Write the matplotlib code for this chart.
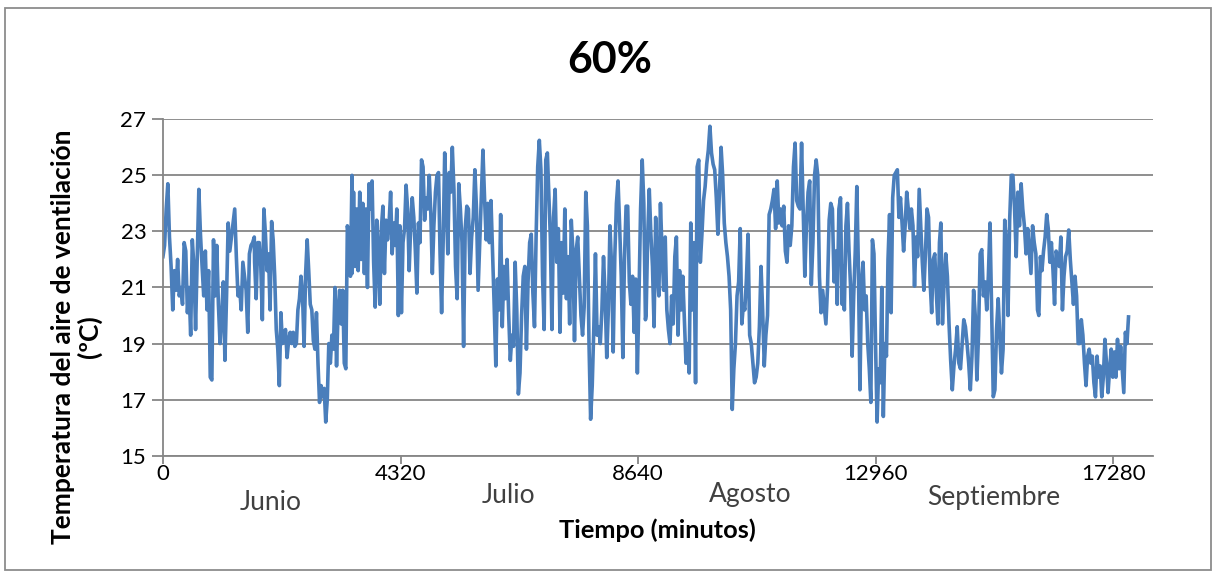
import numpy as np
import matplotlib
matplotlib.use("Agg")
import matplotlib.pyplot as plt
import matplotlib.transforms as mtransforms
from matplotlib.patches import Rectangle

plt.rcParams['font.family'] = ['Lato', 'DejaVu Sans']

# start / end minute of each stretch of readings
seg_start = [0, 1667, 3438, 5233, 7015, 8786, 10581, 12363, 14146, 15928]
seg_end = [1661, 3438, 5208, 6991, 8774, 10556, 12351, 14121, 15904, 17559]

t01 = [22.1, 22.5, 23.8, 24.7, 22.8, 21.75, 20.2, 21.6, 20.9, 22.0, 20.7, 21.0, 20.4, 22.6, 22.3,
       20.1, 21.0, 19.3, 22.7, 21.75, 19.5, 22.0, 24.5, 22.9, 21.75, 20.7, 22.3, 20.2, 21.6, 17.8,
       17.7, 22.7, 20.7, 22.5, 20.4, 19.0, 20.0, 21.2, 18.4, 20.7, 23.3, 22.3, 22.8, 23.3, 23.8,
       22.1, 20.7, 21.0, 20.2, 21.9, 21.4, 20.9, 19.4, 22.2, 22.5, 22.6, 22.8]
t02 = [21.9, 20.6, 22.6, 22.6, 21.75, 19.85, 23.8, 22.9, 21.6, 22.2, 20.2, 23.35, 22.7, 21.4, 19.5,
       18.8, 17.5, 20.1, 19.0, 19.3, 19.5, 18.5, 19.1, 19.4, 19.0, 19.4, 18.9, 19.0, 20.2, 20.6,
       21.4, 20.7, 18.9, 21.5, 22.7, 21.6, 20.4, 20.2, 19.1, 18.8, 20.1, 18.3, 16.9, 17.5, 17.1,
       17.4, 16.2, 17.0, 19.0, 18.3, 19.3, 18.8, 21.0, 18.2, 20.2, 20.9, 19.7, 20.9, 18.3, 18.1,
       23.2, 22.8, 21.4, 25.0]
t03 = [21.5, 24.4, 21.75, 23.8, 21.6, 24.4, 22.0, 24.0, 21.5, 23.8, 21.0, 24.7, 23.8, 24.8, 21.9,
       20.3, 23.4, 22.3, 20.4, 23.1, 23.9, 21.5, 23.4, 22.7, 23.3, 24.4, 22.2, 23.3, 22.5, 23.8,
       20.0, 23.2, 20.1, 22.6, 23.1, 24.65, 23.8, 21.6, 23.2, 24.2, 23.5, 22.3, 20.8, 23.3, 22.6,
       25.55, 25.3, 23.4, 24.2, 23.8, 25.0, 23.65, 21.5, 23.2, 24.4, 25.0, 25.1, 22.2, 20.1, 22.6,
       25.8, 24.2, 22.2, 25.1]
t04 = [24.4, 26.0, 24.5, 21.75, 20.6, 24.7, 23.8, 22.6, 18.9, 23.1, 23.9, 23.8, 21.5, 22.8, 23.5,
       25.2, 23.8, 20.9, 22.6, 24.4, 25.9, 24.2, 22.7, 24.0, 22.6, 24.1, 22.2, 20.3, 18.2, 21.3,
       20.2, 23.6, 19.6, 21.75, 20.6, 22.0, 20.0, 18.4, 19.3, 18.9, 21.9, 20.2, 17.2, 17.95, 20.0,
       21.4, 21.75, 18.8, 21.2, 22.6, 22.9, 20.8, 19.6, 22.8, 25.3, 26.25, 25.2, 21.4, 19.5, 25.55,
       25.8]
t05 = [24.4, 22.8, 19.5, 23.5, 24.5, 21.9, 23.1, 19.4, 22.6, 20.8, 23.8, 20.6, 22.1, 19.7, 23.4,
       22.3, 19.1, 22.3, 22.8, 21.4, 20.0, 19.3, 20.3, 24.4, 23.2, 19.0, 16.3, 17.5, 19.6, 22.2,
       19.3, 19.6, 19.0, 20.2, 22.1, 20.7, 18.5, 20.2, 23.2, 21.75, 18.7, 22.1, 24.0, 24.8, 23.2,
       21.4, 18.5, 22.0, 23.9, 23.9, 21.2, 20.4, 21.4, 19.4, 21.3, 17.95, 20.7, 23.8, 25.55, 24.0,
       19.85]
t06 = [20.0, 22.8, 24.5, 22.9, 21.75, 19.6, 23.5, 21.6, 20.7, 24.0, 22.3, 20.9, 22.8, 20.2, 19.5,
       19.0, 20.7, 19.7, 22.1, 22.8, 19.3, 21.6, 20.2, 21.4, 19.85, 18.3, 19.0, 17.95, 23.3, 20.2,
       22.6, 17.6, 25.3, 25.55, 21.9, 22.9, 24.1, 24.6, 25.4, 25.9, 26.75, 25.8, 25.4, 25.2, 24.2,
       22.9, 24.4, 26.0, 25.0, 23.3, 22.6, 22.1, 21.4, 20.2, 16.65, 18.1, 19.0, 20.7, 21.2, 23.1,
       19.7, 20.4]
t07 = [20.2, 21.3, 22.9, 19.3, 19.0, 18.3, 17.6, 17.8, 18.3, 19.6, 21.75, 20.2, 18.2, 19.3, 20.0,
       23.6, 23.8, 24.1, 24.5, 23.1, 24.8, 23.3, 23.8, 23.2, 23.9, 22.3, 21.9, 23.2, 22.5, 23.2,
       25.3, 26.15, 24.1, 23.9, 23.8, 26.15, 23.8, 21.4, 23.2, 24.4, 24.8, 21.1, 22.6, 25.0, 25.55,
       25.0, 21.4, 20.1, 20.9, 20.3, 19.7, 21.0, 23.4, 24.0, 23.8, 21.2, 22.3, 20.4, 23.8, 24.2,
       20.4]
t08 = [21.75, 20.2, 23.2, 24.0, 22.3, 21.0, 18.55, 20.7, 22.3, 24.6, 21.75, 17.35, 21.2, 21.9, 20.2,
       20.7, 19.0, 18.1, 16.9, 22.7, 22.2, 19.0, 16.2, 18.1, 17.6, 21.0, 16.4, 19.0, 18.55, 22.0,
       23.6, 20.1, 24.2, 25.0, 25.1, 25.2, 23.5, 24.2, 23.3, 22.3, 23.2, 24.4, 23.8, 23.1, 23.8,
       23.2, 21.05, 22.8, 22.1, 24.5, 23.2, 21.9, 20.9, 22.2, 23.8, 23.5, 21.2, 20.1, 22.0, 22.2,
       20.8, 19.7, 22.6]
t09 = [23.3, 19.7, 21.2, 22.2, 21.4, 19.7, 18.4, 17.35, 18.2, 18.8, 19.6, 18.3, 18.1, 19.0, 19.85,
       19.6, 19.0, 18.3, 17.35, 18.55, 20.9, 20.0, 17.7, 19.3, 22.2, 22.35, 20.7, 21.2, 20.2, 21.4,
       23.3, 20.2, 17.1, 17.35, 19.5, 20.6, 19.3, 17.95, 18.8, 23.4, 22.6, 20.0, 23.4, 25.0, 25.0,
       23.8, 22.1, 24.4, 23.2, 24.7, 23.8, 23.2, 22.2, 23.1, 22.3, 21.5, 23.2, 22.6, 22.2, 20.2]
t10 = [20.0, 22.1, 21.6, 22.3, 22.8, 23.6, 23.1, 21.9, 22.6, 21.6, 20.4, 22.3, 22.1, 21.75, 22.8,
       20.2, 21.4, 22.1, 22.3, 23.05, 22.0, 21.2, 20.4, 21.4, 20.7, 19.0, 19.0, 19.85, 19.3, 18.3,
       17.5, 18.55, 18.8, 18.3, 18.55, 17.6, 17.1, 18.55, 17.8, 18.2, 17.1, 17.8, 19.15, 18.3, 17.25,
       18.1, 18.8, 17.8, 18.7, 17.8, 19.15, 18.1, 18.9, 18.1, 17.25, 19.4, 19.0, 19.95]

segments = [t01, t02, t03, t04, t05, t06, t07, t08, t09, t10]

x_ticks = [0, 4320, 8640, 12960, 17280]
y_ticks = [15, 17, 19, 21, 23, 25, 27]
months = ['Junio', 'Julio', 'Agosto', 'Septiembre']
month_pos = [1950, 6280, 10680, 15100]
month_y = [0.127, 0.139, 0.141, 0.137]

minutes = np.concatenate([np.linspace(a, b, len(s)) for a, b, s in zip(seg_start, seg_end, segments)])
temps = np.concatenate(segments)

fig = plt.figure(figsize=(12.16, 5.76), dpi=100)
ax = fig.add_axes([0.134, 0.2089, 0.814, 0.584])

grid_col = '#868686'
ax.plot(minutes, temps, color='#4A7EBB', lw=2.6, solid_joinstyle='round')

ax.set_xlim(0, 18000)
ax.set_ylim(15, 27)
ax.set_xticks(x_ticks)
ax.set_yticks(y_ticks)
ax.yaxis.grid(True, color=grid_col, lw=1.3)
ax.set_axisbelow(True)
for s in ['top', 'right']:
    ax.spines[s].set_visible(False)
for s in ['left', 'bottom']:
    ax.spines[s].set_color(grid_col)
    ax.spines[s].set_linewidth(1.3)
ax.tick_params(axis='y', length=8, width=1.3, color=grid_col, labelsize=16, pad=4)
ax.tick_params(axis='x', length=6, width=1.3, color=grid_col, labelsize=16, pad=0)

# month names sit between the day ticks, below the axis
month_tr = mtransforms.blended_transform_factory(ax.transData, fig.transFigure)
for lab, pos, yy in zip(months, month_pos, month_y):
    ax.text(pos, yy, lab, transform=month_tr, ha='center', va='center',
            fontsize=19, color='#404040', clip_on=False)

fig.text(0.5016, 0.896, '60%', ha='center', va='center', fontsize=31, fontweight='bold')
fig.text(0.541, 0.08, 'Tiempo (minutos)', ha='center', va='center', fontsize=18.3,
         fontweight='bold')
fig.text(0.063, 0.415, 'Temperatura del aire de ventilación\n(ºC)', ha='center', va='center',
         rotation=90, fontsize=19, fontweight='bold', multialignment='center',
         linespacing=1.1)

fig.patches.append(Rectangle((0.004, 0.01), 0.992, 0.976, transform=fig.transFigure,
                             fill=False, edgecolor='#8c8c8c', lw=1.3))

fig.savefig('out.png', dpi=100)
